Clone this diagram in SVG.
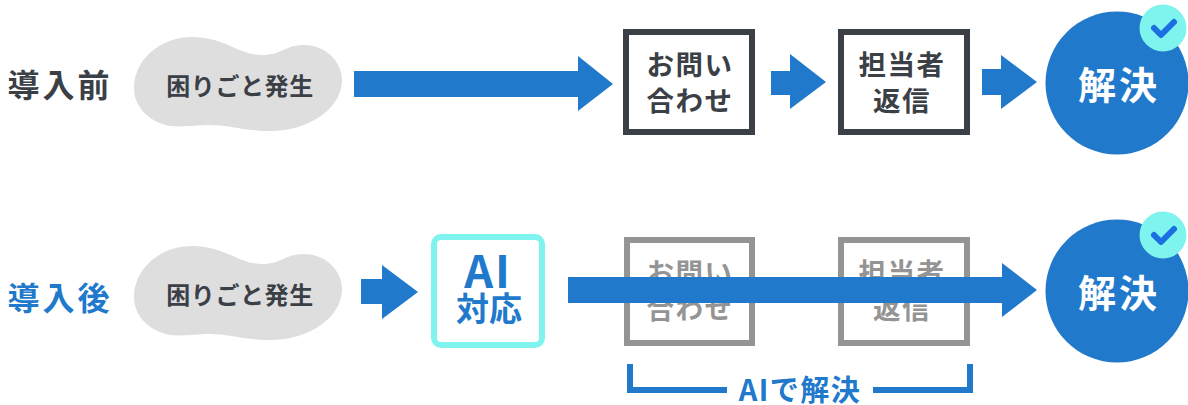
<svg xmlns="http://www.w3.org/2000/svg" width="1188" height="405" viewBox="0 0 1188 405">
<style>
text{font-family:"Noto Sans CJK JP","Noto Sans",sans-serif;font-weight:700;text-anchor:middle}
.blob{fill:#dedede}
.dark{fill:#3b3f46}
.blue{fill:#2079cb}
.arrow{fill:#2079cb}
.box{fill:#fff;stroke:#3b3f46;stroke-width:6}
.box2{fill:#fff;stroke:#949494;stroke-width:6}
.grey{fill:#949494}
.t26{font-size:27.5px;letter-spacing:1.5px}
.t24{font-size:24px;letter-spacing:.6px}
.t30{font-size:32px;letter-spacing:3px}
.t36{font-size:38px;letter-spacing:3px;fill:#fff}
</style>
<defs>
<path id="b" class="blob" d="M134 88C134 60 160 37 192 37C225 37 238 55 262 55C282 55 285 45 304 45C326 45 342 62 342 80C342 108 310 131 270 131C245 131 225 124 205 125C190 126 180 127 170 126C150 122 134 108 134 88Z"/>
<g id="check"><circle r="23.5" fill="#7ff3ee"/><path d="M-9 0L-2 7L11 -6" fill="none" stroke="#1b6fe0" stroke-width="6" stroke-linecap="round" stroke-linejoin="round"/></g>
</defs>
<g id="before-label"><text x="60" y="97" class="dark t30">導入前</text></g>
<g id="after-label"><text x="60" y="310" class="t30 blue">導入後</text></g>
<g id="blob1"><use href="#b"/><text x="240" y="95" class="dark t24">困りごと発生</text></g>
<g id="blob2"><use href="#b" transform="translate(0,209)"/><text x="240" y="304" class="dark t24">困りごと発生</text></g>
<g id="box-ask1"><rect x="626" y="32" width="126" height="100" class="box"/><text x="690" y="75" class="dark t26">お問い</text><text x="690" y="111" class="dark t26">合わせ</text></g>
<g id="box-reply1"><rect x="841" y="32" width="126" height="100" class="box"/><text x="902" y="75" class="dark t26">担当者</text><text x="902" y="111" class="dark t26">返信</text></g>
<g id="resolve1"><circle cx="1117" cy="83" r="71.5" class="blue"/><text x="1119" y="99" class="t36">解決</text><use href="#check" x="1163" y="28"/></g>
<g id="box-ask2"><rect x="627" y="240" width="125" height="103" class="box2"/><text x="690" y="283" class="grey t26">お問い</text><text x="690" y="319" class="grey t26">合わせ</text></g>
<g id="box-reply2"><rect x="841" y="240" width="126" height="103" class="box2"/><text x="902" y="283" class="grey t26">担当者</text><text x="902" y="319" class="grey t26">返信</text></g>
<g id="box-ai"><rect x="434" y="237" width="108" height="108" rx="7" fill="#fff" stroke="#7ff3ee" stroke-width="6"/><text x="488" y="288" class="blue" font-size="45" letter-spacing="2">AI</text><text x="489" y="321" class="blue" font-size="33">対応</text></g>
<g id="resolve2"><circle cx="1117" cy="291" r="71.5" class="blue"/><text x="1119" y="307" class="t36">解決</text><use href="#check" x="1163" y="235"/></g>
<g id="connectors">
<path class="arrow" d="M354 71H578V56L613 84L578 111V97H354Z"/>
<path class="arrow" d="M771 71H790V54L826 82L790 109V95H771Z"/>
<path class="arrow" d="M982 69H1001V55L1037 82L1001 109V95H982Z"/>
<path class="arrow" d="M361 279H382V265L418 292L382 319V304H361Z"/>
<path class="arrow" d="M568 277H1002V263L1037 290L1002 317V303H568Z"/>
</g>
<g id="bracket"><path d="M630 364V390H727M873 390H970V364" fill="none" stroke="#2079cb" stroke-width="6"/><text x="800" y="401" class="blue" font-size="29" letter-spacing="1.5">AIで解決</text></g>
</svg>
